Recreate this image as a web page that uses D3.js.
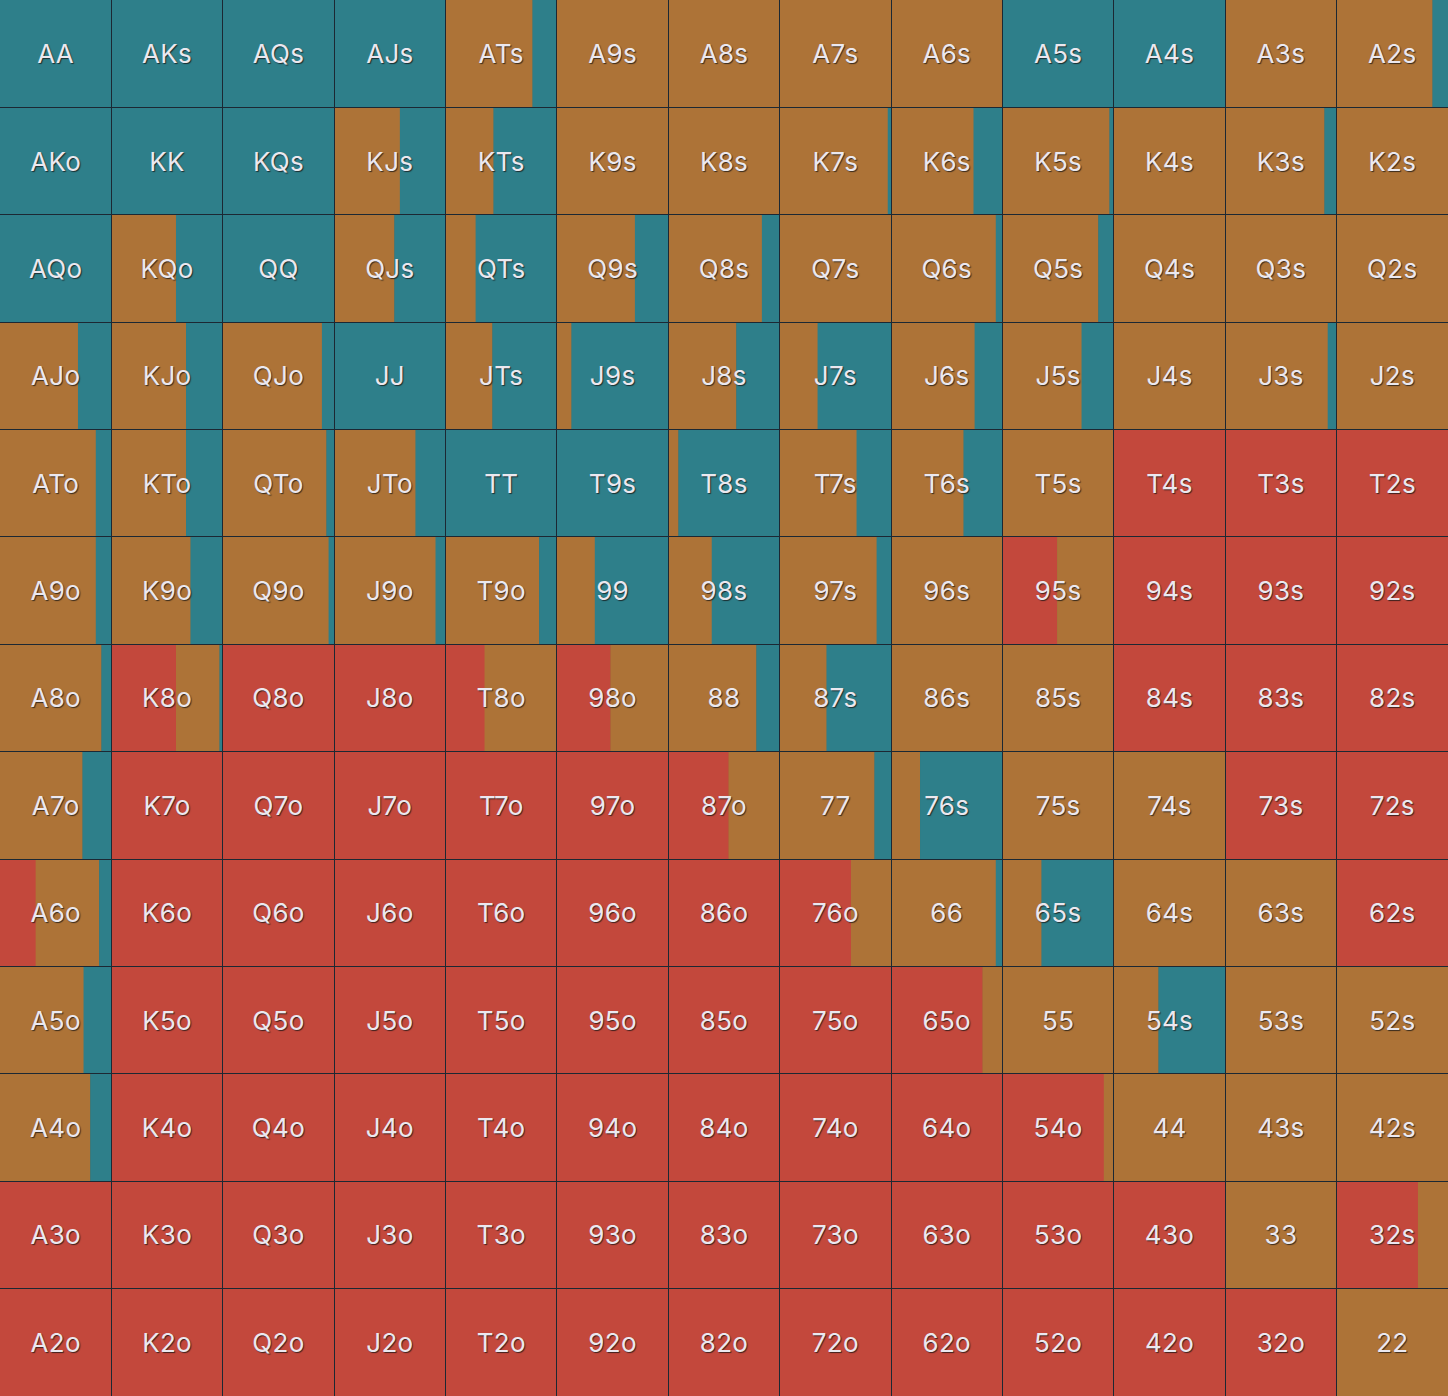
<!DOCTYPE html>
<html>
<head>
<meta charset="utf-8">
<script src="https://cdn.jsdelivr.net/npm/d3@7"></script>
<style>
html,body{margin:0;padding:0;background:#1c2530;}
svg{display:block;}
text{font-family:Inter,"Noto Sans",sans-serif;}
</style>
</head>
<body>
<svg id="chart" width="1448" height="1396"></svg>
<script>
const ranks = ["A","K","Q","J","T","9","8","7","6","5","4","3","2"];
const actions = ["fold","call","raise"];
const actionColors = ["#c3483c","#ad7337","#2e7f8a"];

// percentage of each hand folded (row = first rank, column = second rank)
const foldPct = [
  [0,0,0,0,0,0,0,0,0,0,0,0,0],
  [0,0,0,0,0,0,0,0,0,0,0,0,0],
  [0,0,0,0,0,0,0,0,0,0,0,0,0],
  [0,0,0,0,0,0,0,0,0,0,0,0,0],
  [0,0,0,0,0,0,0,0,0,0,100,100,100],
  [0,0,0,0,0,0,0,0,0,49,100,100,100],
  [0,58,100,100,35,48,0,0,0,0,100,100,100],
  [0,100,100,100,100,100,54,0,0,0,0,100,100],
  [32,100,100,100,100,100,100,64,0,0,0,0,100],
  [0,100,100,100,100,100,100,100,82,0,0,0,0],
  [0,100,100,100,100,100,100,100,100,91,0,0,0],
  [100,100,100,100,100,100,100,100,100,100,100,0,73],
  [100,100,100,100,100,100,100,100,100,100,100,100,0]
];
// percentage of each hand called
const callPct = [
  [0,0,0,0,78,100,100,100,100,0,0,100,86],
  [0,0,0,59,43,100,100,97,74,96,100,89,100],
  [0,58,0,54,27,70,84,100,94,86,100,100,100],
  [70,67,89,0,42,13,61,34,75,71,100,92,100],
  [86,67,93,73,0,0,9,69,65,100,0,0,0],
  [86,71,95,91,84,34,39,87,100,51,0,0,0],
  [91,39,0,0,65,52,79,42,100,100,0,0,0],
  [74,0,0,0,0,0,46,85,26,100,100,0,0],
  [57,0,0,0,0,0,0,36,94,35,100,100,0],
  [75,0,0,0,0,0,0,0,18,100,40,100,100],
  [81,0,0,0,0,0,0,0,0,9,100,100,100],
  [0,0,0,0,0,0,0,0,0,0,0,100,27],
  [0,0,0,0,0,0,0,0,0,0,0,0,100]
];

const W = 1448, H = 1396;
const svg = d3.select("#chart");
const x = d3.scaleBand().domain(ranks).range([0, W]).padding(0);
const y = d3.scaleBand().domain(ranks).range([0, H]).padding(0);

function label(i, j) {
  if (i === j) return ranks[i] + ranks[j];
  if (j > i) return ranks[i] + ranks[j] + "s";
  return ranks[j] + ranks[i] + "o";
}

const cells = [];
ranks.forEach((ri, i) => ranks.forEach((rj, j) => {
  const f = foldPct[i][j], c = callPct[i][j];
  const r = Math.max(0, 100 - f - c);
  cells.push({row: ri, col: rj, i, j, label: label(i, j), pcts: [f, c, r]});
}));

const g = svg.selectAll("g.cell").data(cells).join("g")
  .attr("class", "cell")
  .attr("transform", d => `translate(${x(d.col)},${y(d.row)})`);

const frac = d3.scaleLinear().domain([0, 100]).range([0, x.bandwidth()]);

g.each(function(d) {
  const sel = d3.select(this);
  let acc = 0;
  const segs = d.pcts.map((p, k) => { const s = {start: acc, pct: p, k}; acc += p; return s; });
  sel.selectAll("rect").data(segs.filter(s => s.pct > 0)).join("rect")
    .attr("x", s => frac(s.start))
    .attr("y", 0)
    .attr("width", s => frac(s.pct) + 0.5)
    .attr("height", y.bandwidth() + 0.5)
    .attr("fill", s => actionColors[s.k]);
});

// grid lines
const lineColor = "#1c2833";
svg.append("g").selectAll("line").data(ranks.slice(1)).join("line")
  .attr("x1", d => Math.floor(x(d)) + 0.5).attr("x2", d => Math.floor(x(d)) + 0.5)
  .attr("y1", 0).attr("y2", H)
  .attr("stroke", lineColor).attr("stroke-width", 1);
svg.append("g").selectAll("line").data(ranks.slice(1)).join("line")
  .attr("y1", d => Math.floor(y(d)) + 0.5).attr("y2", d => Math.floor(y(d)) + 0.5)
  .attr("x1", 0).attr("x2", W)
  .attr("stroke", lineColor).attr("stroke-width", 1);

// labels
g.append("text")
  .attr("x", x.bandwidth() / 2)
  .attr("y", y.bandwidth() / 2)
  .attr("text-anchor", "middle")
  .attr("dominant-baseline", "central")
  .attr("font-size", 26)
  .attr("letter-spacing", 0.3)
  .attr("fill", "#ebe8ef")
  .style("text-shadow", "1px 1px 1px rgba(20,20,20,0.75)")
  .text(d => d.label);
</script>
</body>
</html>
